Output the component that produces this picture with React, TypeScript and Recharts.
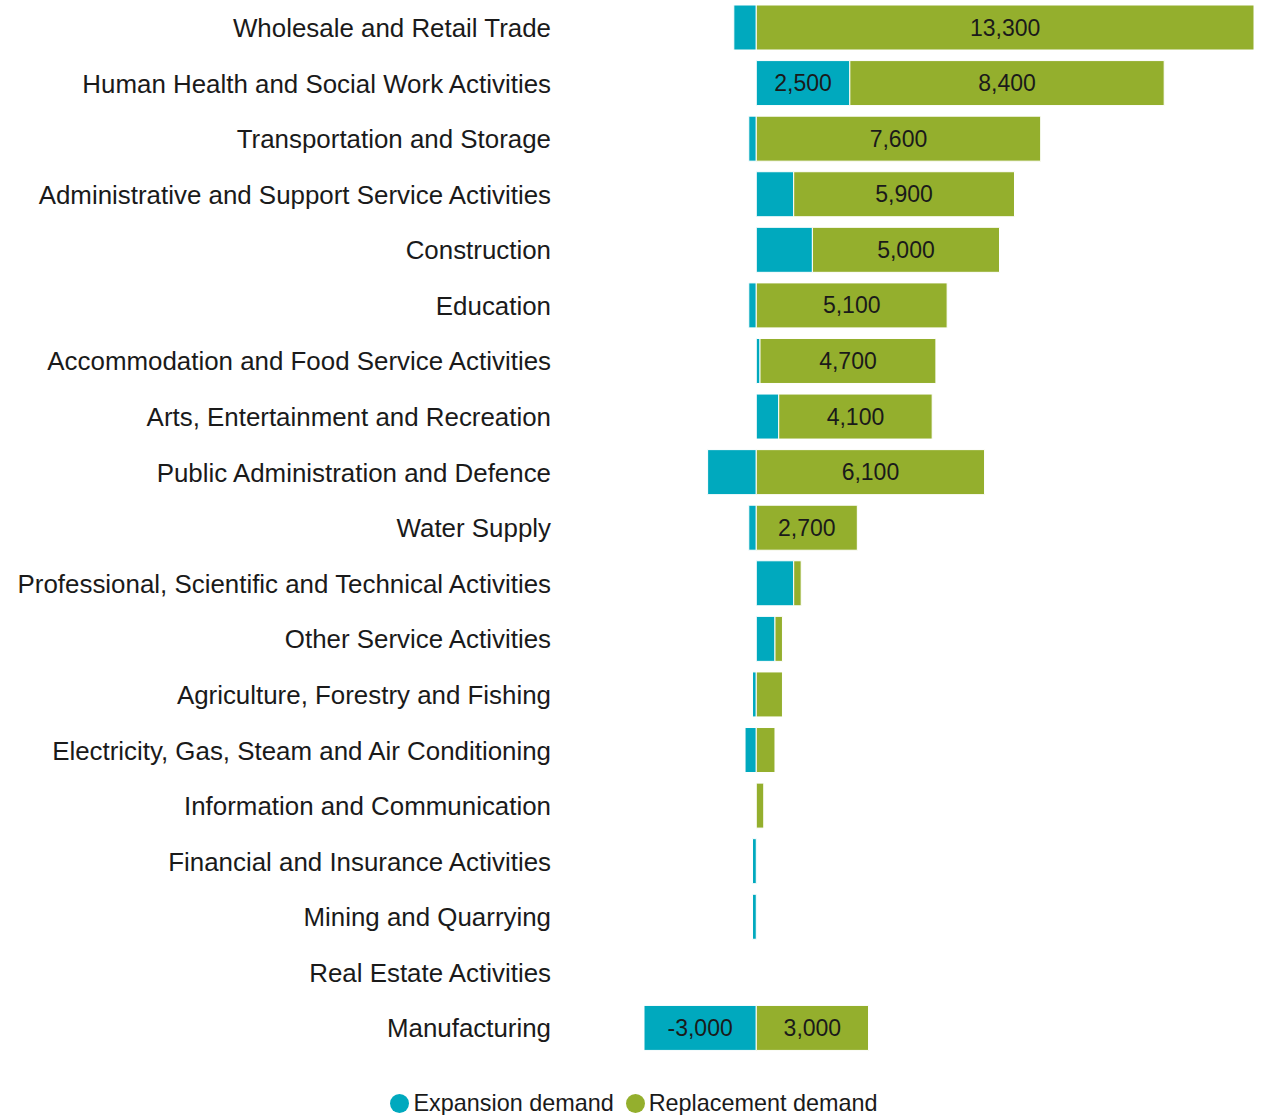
import React from "react"
import { BarChart, Bar, XAxis, YAxis, Legend, LabelList } from "recharts"

const categories = [
  "Wholesale and Retail Trade",
  "Human Health and Social Work Activities",
  "Transportation and Storage",
  "Administrative and Support Service Activities",
  "Construction",
  "Education",
  "Accommodation and Food Service Activities",
  "Arts, Entertainment and Recreation",
  "Public Administration and Defence",
  "Water Supply",
  "Professional, Scientific and Technical Activities",
  "Other Service Activities",
  "Agriculture, Forestry and Fishing",
  "Electricity, Gas, Steam and Air Conditioning",
  "Information and Communication",
  "Financial and Insurance Activities",
  "Mining and Quarrying",
  "Real Estate Activities",
  "Manufacturing"
]

const expansion = [-600, 2500, -200, 1000, 1500, -200, 100, 600, -1300, -200, 1000, 500, -100, -300, 0, -100, -100, 0, -3000]
const replacement = [13300, 8400, 7600, 5900, 5000, 5100, 4700, 4100, 6100, 2700, 200, 200, 700, 500, 200, 0, 0, 0, 3000]

const seriesNames = ["Expansion demand", "Replacement demand"]
const TEAL = "#00a9be"
const GREEN = "#94af2d"
const FONT = "Arial, 'Liberation Sans', sans-serif"

const data = categories.map((name, i) => ({
  name,
  expansion: expansion[i],
  replacement: replacement[i]
}))

const fmt = (v: number) => v.toLocaleString("en-US")

// only label segments wide enough for the number
const SegmentLabel = (props: any) => {
  const { x, y, width, height, value } = props
  if (value == null || Math.abs(value) < 2000) return null
  return (
    <text
      x={x + width / 2}
      y={y + height / 2}
      textAnchor="middle"
      dominantBaseline="central"
      fill="#1a1a1a"
      fontSize={23}
      fontFamily={FONT}
    >
      {fmt(value)}
    </text>
  )
}

const LegendContent = () => (
  <div style={{ display: "flex", justifyContent: "center", gap: 12, fontFamily: FONT, fontSize: 23.4, color: "#1a1a1a", paddingLeft: 14, paddingTop: 2 }}>
    {seriesNames.map((n, i) => (
      <div key={n} style={{ display: "flex", alignItems: "center", gap: 4 }}>
        <span style={{ width: 19, height: 19, borderRadius: "50%", background: i === 0 ? TEAL : GREEN, display: "inline-block" }} />
        <span>{n}</span>
      </div>
    ))}
  </div>
)

export default function App() {
  return (
    <div style={{ position: "absolute", left: 0, top: 0, background: "#fff" }}>
      <BarChart
        width={1268}
        height={1115}
        data={data}
        layout="vertical"
        stackOffset="sign"
        barSize={45}
        margin={{ top: 0, right: 14, bottom: 30, left: 0 }}
      >
        <XAxis type="number" domain={[-3000, 13300]} hide />
        <YAxis
          type="category"
          dataKey="name"
          width={644}
          axisLine={false}
          tickLine={false}
          tickSize={0}
          tickMargin={93}
          interval={0}
          tick={{ fill: "#1a1a1a", fontSize: 25.9, fontFamily: FONT }}
        />
        <Legend verticalAlign="bottom" content={<LegendContent />} wrapperStyle={{ bottom: -2 }} />
        <Bar dataKey="expansion" name={seriesNames[0]} stackId="a" fill={TEAL} stroke="#fff" strokeWidth={1} isAnimationActive={false}>
          <LabelList dataKey="expansion" content={<SegmentLabel />} />
        </Bar>
        <Bar dataKey="replacement" name={seriesNames[1]} stackId="a" fill={GREEN} stroke="#fff" strokeWidth={1} isAnimationActive={false}>
          <LabelList dataKey="replacement" content={<SegmentLabel />} />
        </Bar>
      </BarChart>
    </div>
  )
}
